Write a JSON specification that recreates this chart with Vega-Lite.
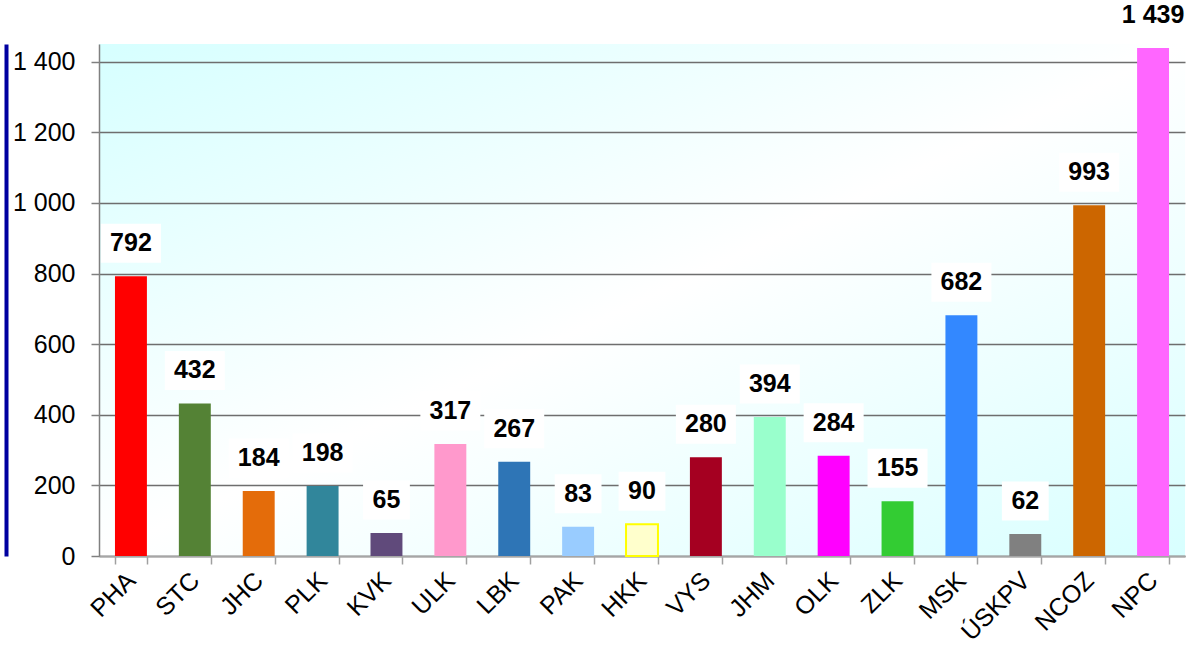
{
  "$schema": "https://vega.github.io/schema/vega-lite/v6.json",
  "width": 1086,
  "height": 512,
  "autosize": {"type": "none"},
  "padding": {"left": 99, "top": 44, "right": 10, "bottom": 89},
  "background": "white",
  "config": {
    "locale": {"number": {"decimal": ",", "thousands": " ", "grouping": [3], "currency": ["", ""]}},
    "font": "Liberation Sans",
    "view": {
      "stroke": null,
      "fill": {"gradient": "linear", "x1": 0, "y1": 0, "x2": 1, "y2": 1,
        "stops": [{"offset": 0, "color": "#d6ffff"}, {"offset": 0.5, "color": "#ffffff"}, {"offset": 1, "color": "#d8ffff"}]}
    }
  },
  "data": {"values": [
    {"kraj": "PHA", "value": 792},
    {"kraj": "STC", "value": 432},
    {"kraj": "JHC", "value": 184},
    {"kraj": "PLK", "value": 198},
    {"kraj": "KVK", "value": 65},
    {"kraj": "ULK", "value": 317},
    {"kraj": "LBK", "value": 267},
    {"kraj": "PAK", "value": 83},
    {"kraj": "HKK", "value": 90},
    {"kraj": "VYS", "value": 280},
    {"kraj": "JHM", "value": 394},
    {"kraj": "OLK", "value": 284},
    {"kraj": "ZLK", "value": 155},
    {"kraj": "MSK", "value": 682},
    {"kraj": "ÚSKPV", "value": 62},
    {"kraj": "NCOZ", "value": 993},
    {"kraj": "NPC", "value": 1439}
  ]},
  "encoding": {
    "x": {
      "field": "kraj", "type": "nominal", "sort": null,
      "scale": {"paddingInner": 0.5, "paddingOuter": 0.25},
      "axis": {
        "title": null, "labelAngle": -45, "labelAlign": "right", "labelBaseline": "middle",
        "labelFontSize": 25, "labelColor": "black", "labelPadding": 12,
        "tickBand": "extent", "tickSize": 8, "tickColor": "#a0a0a0", "tickWidth": 1.5,
        "domainColor": "#a6a6a6", "domainWidth": 2, "grid": false
      }
    }
  },
  "layer": [
    {
      "mark": {"type": "bar", "strokeWidth": 2},
      "encoding": {
        "y": {
          "field": "value", "type": "quantitative",
          "scale": {"domain": [0, 1450], "nice": false},
          "axis": {
            "title": null, "values": [0, 200, 400, 600, 800, 1000, 1200, 1400], "format": ",d",
            "labelFontSize": 25, "labelColor": "black", "labelPadding": 16,
            "tickSize": 8, "tickColor": "#808080", "tickWidth": 1.5,
            "domainColor": "#808080", "domainWidth": 1.5,
            "grid": true, "gridColor": "#6e6e6e", "gridWidth": 1.5
          }
        },
        "color": {
          "field": "kraj", "type": "nominal", "legend": null,
          "scale": {
            "domain": ["PHA", "STC", "JHC", "PLK", "KVK", "ULK", "LBK", "PAK", "HKK", "VYS", "JHM", "OLK", "ZLK", "MSK", "ÚSKPV", "NCOZ", "NPC"],
            "range": ["#ff0000", "#548235", "#e46c0a", "#31869b", "#604a7b", "#ff99cc", "#2e75b6", "#99ccff", "#ffffcc", "#a50021", "#99ffcc", "#ff00ff", "#33cc33", "#3388ff", "#808080", "#cc6600", "#ff66ff"]
          }
        },
        "stroke": {"condition": {"test": "datum.kraj === 'HKK'", "value": "#ffff00"}, "value": null}
      }
    },
    {
      "mark": {"type": "point", "filled": true, "color": "white", "opacity": 1, "strokeWidth": 0, "size": 3600},
      "encoding": {
        "y": {
          "field": "value", "type": "quantitative",
          "axis": {
            "orient": "left", "offset": 93, "title": null, "labels": false, "ticks": false, "grid": false,
            "domainColor": "#0000a0", "domainWidth": 4
          }
        },
        "yOffset": {"condition": {"test": "datum.value > 1400", "value": -20}, "value": -33},
        "shape": {
          "condition": {"test": "datum.value < 100", "value": "M-0.78,-0.65H0.78V0.65H-0.78Z"},
          "value": "M-1,-0.65H1V0.65H-1Z"
        }
      }
    },
    {
      "mark": {"type": "text", "fontSize": 25, "fontWeight": "bold", "baseline": "alphabetic", "color": "black"},
      "encoding": {
        "y": {"field": "value", "type": "quantitative", "axis": null},
        "yOffset": {"condition": {"test": "datum.value > 1400", "value": -12}, "value": -25},
        "text": {"field": "value", "type": "quantitative", "format": ","}
      }
    }
  ],
  "resolve": {"axis": {"y": "independent"}}
}
